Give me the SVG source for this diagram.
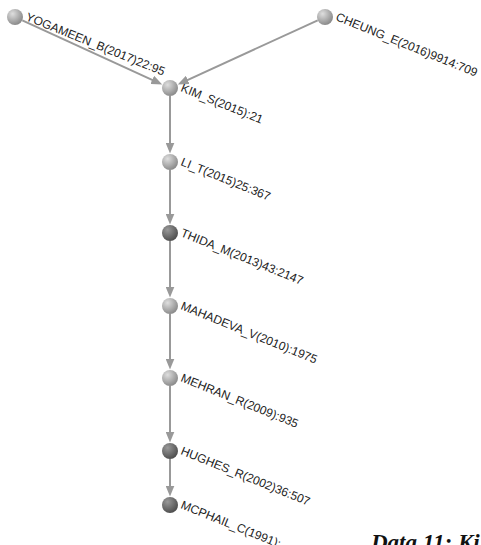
<svg xmlns="http://www.w3.org/2000/svg" width="481" height="545" viewBox="0 0 481 545">
<style>
.edge{stroke:#999;stroke-width:2;fill:none}
.lbl{font-family:"Liberation Sans",Arial,sans-serif;font-size:12px;fill:#222}
.light{fill:url(#gLight)}
.dark{fill:url(#gDark)}
.cap{font-family:"Liberation Serif","Times New Roman",serif;font-size:23px;font-weight:bold;font-style:italic;fill:#111}
</style>
<defs>
<radialGradient id="gLight" cx="35%" cy="30%" r="70%">
<stop offset="0" stop-color="#dedede"/>
<stop offset="1" stop-color="#8c8c8c"/>
</radialGradient>
<radialGradient id="gDark" cx="35%" cy="30%" r="70%">
<stop offset="0" stop-color="#999"/>
<stop offset="1" stop-color="#505050"/>
</radialGradient>
<marker id="arr" markerUnits="userSpaceOnUse" markerWidth="11" markerHeight="9" refX="7" refY="4.5" orient="auto">
<path d="M0,0 L11,4.5 L0,9 z" fill="#999"/>
</marker>
</defs>
<g id="connectors">
<line class="edge" x1="22.3" y1="20.3" x2="158.6" y2="82.8" marker-end="url(#arr)"/>
<line class="edge" x1="317.7" y1="20.3" x2="181.4" y2="82.8" marker-end="url(#arr)"/>
<line class="edge" x1="170" y1="96" x2="170" y2="149.5" marker-end="url(#arr)"/>
<line class="edge" x1="170" y1="170" x2="170" y2="220.5" marker-end="url(#arr)"/>
<line class="edge" x1="170" y1="241" x2="170" y2="293.5" marker-end="url(#arr)"/>
<line class="edge" x1="170" y1="314" x2="170" y2="365.5" marker-end="url(#arr)"/>
<line class="edge" x1="170" y1="386" x2="170" y2="438.5" marker-end="url(#arr)"/>
<line class="edge" x1="170" y1="459" x2="170" y2="492.5" marker-end="url(#arr)"/>
</g>
<g id="n-yogameen"><circle class="light" cx="15" cy="17" r="8"/><text class="lbl" transform="translate(25,20) rotate(22)">YOGAMEEN_B(2017)22:95</text></g>
<g id="n-cheung"><circle class="light" cx="325" cy="17" r="8"/><text class="lbl" transform="translate(335,20) rotate(22)">CHEUNG_E(2016)9914:709</text></g>
<g id="n-kim"><circle class="light" cx="170" cy="88" r="8"/><text class="lbl" transform="translate(180,91) rotate(22)">KIM_S(2015):21</text></g>
<g id="n-li"><circle class="light" cx="170" cy="162" r="8"/><text class="lbl" transform="translate(180,165) rotate(22)">LI_T(2015)25:367</text></g>
<g id="n-thida"><circle class="dark" cx="170" cy="233" r="8"/><text class="lbl" transform="translate(180,236) rotate(22)">THIDA_M(2013)43:2147</text></g>
<g id="n-mahadeva"><circle class="light" cx="170" cy="306" r="8"/><text class="lbl" transform="translate(180,309) rotate(22)">MAHADEVA_V(2010):1975</text></g>
<g id="n-mehran"><circle class="light" cx="170" cy="378" r="8"/><text class="lbl" transform="translate(180,381) rotate(22)">MEHRAN_R(2009):935</text></g>
<g id="n-hughes"><circle class="dark" cx="170" cy="451" r="8"/><text class="lbl" transform="translate(180,454) rotate(22)">HUGHES_R(2002)36:507</text></g>
<g id="n-mcphail"><circle class="dark" cx="170" cy="505" r="8"/><text class="lbl" transform="translate(180,508) rotate(22)">MCPHAIL_C(1991):</text></g>
<text class="cap" x="371" y="550">Data 11: Ki</text>
</svg>
